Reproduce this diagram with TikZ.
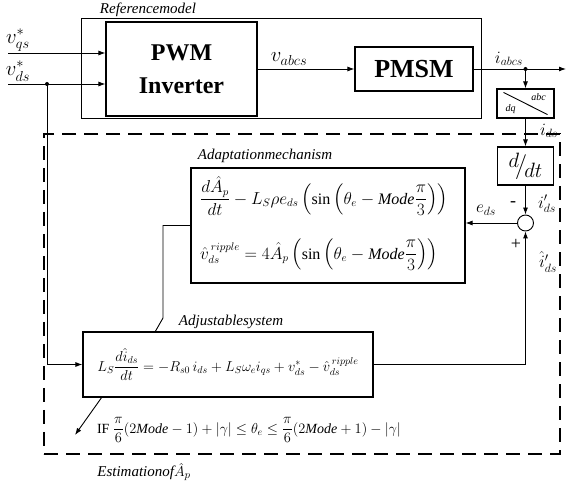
\documentclass[tikz,border=0pt]{standalone}
\usepackage{amsmath}
\usepackage{fontspec}
\setmainfont{Liberation Serif}
\usetikzlibrary{arrows.meta,calc}
\begin{document}
\begin{tikzpicture}[x=1pt,y=-1pt,
  box/.style={draw, line width=1.1pt, inner sep=0pt},
  conn/.style={line width=0.9pt},
  arr/.style={conn, -{Latex[length=7pt,width=5pt]}},
  lbl/.style={font=\fontsize{15}{15}\selectfont\itshape, inner sep=0pt},
  sig/.style={font=\fontsize{18}{18}\selectfont, inner sep=0pt},
  big/.style={font=\fontsize{21}{21}\selectfont, inner sep=0pt},
  eqn/.style={font=\fontsize{16}{18}\selectfont, inner sep=0pt},
  jdot/.style={circle, fill, inner sep=0pt, minimum size=4pt}]
\useasboundingbox (0,0) rectangle (566,486);

% blocks
\node[box, line width=0.9pt, minimum width=400pt, minimum height=100pt] (ref) at (281,68) {};
\node[box, minimum width=151pt, minimum height=94pt, align=center,
      font=\fontsize{24}{33}\selectfont\bfseries] (pwm) at (181.5,69) {PWM\\Inverter};
\node[box, minimum width=118pt, minimum height=44pt,
      font=\fontsize{26}{26}\selectfont\bfseries] (pmsm) at (414,69) {PMSM};
\node[box, minimum width=57pt, minimum height=29pt] (dq) at (525.5,103.5) {};
\node[box, minimum width=56pt, minimum height=38pt] (ddt) at (525.5,166)
  {\fontsize{22}{22}\selectfont$\raisebox{5pt}{$d$}\!\big/\!\raisebox{-5pt}{$dt$}$};
\node[circle, draw, line width=0.9pt, minimum size=16pt, inner sep=0pt] (sum) at (525.5,223) {};
\node[box, minimum width=274pt, minimum height=115pt] (adapt) at (328,225.5) {};
\node[box, minimum width=290pt, minimum height=65pt, font=\fontsize{14.5}{17}\selectfont] (adj) at (228,364.5)
  {$L_S\dfrac{d\hat{i}_{ds}}{dt} = -R_{s0}\,i_{ds} + L_S\omega_e i_{qs} + v_{ds}^{*} - \hat{v}_{ds}^{\,ripple}$};
\node[draw, line width=2.2pt, dash pattern=on 14pt off 8pt, minimum width=516pt, minimum height=320pt] (est) at (302,294) {};

% dq/abc contents
\draw[conn] ($(dq.north west)+(7,4)$) -- ($(dq.south east)+(-7,-4)$);
\node[font=\fontsize{10}{10}\selectfont\itshape, inner sep=0pt] (abc) at ($(dq.center)+(13,-6)$) {abc};
\node[font=\fontsize{10}{10}\selectfont\itshape, inner sep=0pt] (dqt) at ($(dq.center)+(-15,6)$) {dq};

% adaptation equations
\node[eqn, anchor=west] (eq1) at (200,196)
  {$\dfrac{d\hat{A}_p}{dt} - L_S\rho e_{ds}\left(\sin\left(\theta_e - \mathit{Mode}\dfrac{\pi}{3}\right)\right)$};
\node[eqn, anchor=west] (eq2) at (200,255)
  {$\hat{v}_{ds}^{\,ripple} = 4\hat{A}_p\left(\sin\left(\theta_e - \mathit{Mode}\dfrac{\pi}{3}\right)\right)$};

% coordinates
\coordinate (inqs) at (8,53);
\coordinate (inds) at (8,84);
\coordinate (j1) at (47,84);
\coordinate (j1b) at (47,364.5);
\coordinate (j2) at (525.5,69);
\coordinate (out) at (566,69);
\coordinate (a1) at (163,318);
\coordinate (adjtop) at (155,332);
\coordinate (adjbot) at (102,397);
\coordinate (ifend) at (75,435);

% connectors
\draw[arr] (inqs) -- (inqs -| pwm.west);
\draw[arr] (inds) -- (inds -| pwm.west);
\node[jdot] at (j1) {};
\draw[conn] (j1) -- (j1b);
\draw[arr] (j1b) -- (adj.west);
\draw[arr] (pwm.east |- j2) -- (pmsm.west);
\draw[arr] (pmsm.east) -- (out);
\node[jdot] at (j2) {};
\draw[arr] (j2) -- (dq.north);
\draw[arr] (dq.south) -- (ddt.north);
\draw[arr] (ddt.south) -- (sum.north);
\draw[arr] (sum.west) -- (sum.west -| adapt.east);
\draw[arr] (adj.east) -| (sum.south);
\draw[conn] (adapt.west) -| (a1) -- (adjtop);
\draw[arr] (adjbot) -- (ifend);

% labels
\node[lbl] (lref) at (148,10) {Referencemodel};
\node[lbl] (lada) at (265,156) {Adaptationmechanism};
\node[lbl] (ladj) at (231,322) {Adjustablesystem};
\node[lbl] (lest) at (144,472) {Estimationof$\hat{A}_p$};
\node[big] (lqs) at (18,40) {$v_{qs}^{*}$};
\node[big] (lds) at (18,71) {$v_{ds}^{*}$};
\node[big] (lvabc) at (289,59) {$v_{abcs}$};
\node[sig] (liabc) at (509,59) {$i_{abcs}$};
\node[sig] (lids) at (549,131) {$i_{ds}$};
\node[sig] (lidp) at (547,204) {$i'_{ds}$};
\node[sig] (lidh) at (548,262) {$\hat{i}'_{ds}$};
\node[sig] (leds) at (486,210) {$e_{ds}$};
\node[sig] (lminus) at (513,204) {-};
\node[sig] (lplus) at (516,244) {+};
\node[eqn, font=\fontsize{14}{16}\selectfont] (lif) at (249,430)
  {IF $\dfrac{\pi}{6}(2\mathit{Mode}-1)+|\gamma| \le \theta_e \le \dfrac{\pi}{6}(2\mathit{Mode}+1)-|\gamma|$};
\end{tikzpicture}
\end{document}
